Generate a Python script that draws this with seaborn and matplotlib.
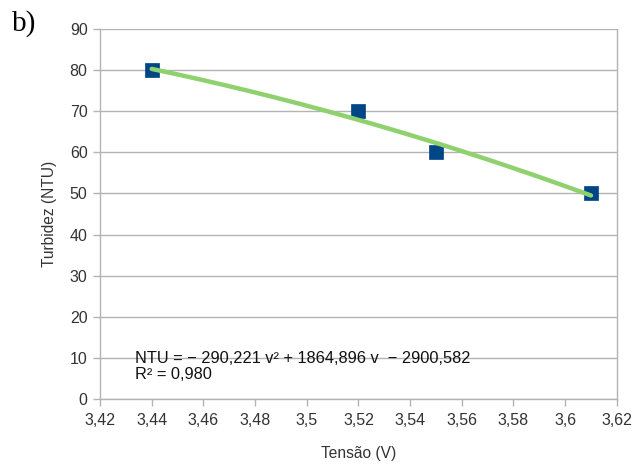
import numpy as np
import pandas as pd
import matplotlib
matplotlib.use("Agg")
import matplotlib.pyplot as plt
import seaborn as sns

# Measured points
tensao = [3.44, 3.52, 3.55, 3.61]
turbidez = [80, 70, 60, 50]

# Quadratic trend line coefficients
coef = [-290.221, 1864.896, -2900.582]
r2 = 0.980

xticks = [3.42, 3.44, 3.46, 3.48, 3.5, 3.52, 3.54, 3.56, 3.58, 3.6, 3.62]
xticklabels = ["3,42", "3,44", "3,46", "3,48", "3,5", "3,52", "3,54", "3,56", "3,58", "3,6", "3,62"]
yticks = [0, 10, 20, 30, 40, 50, 60, 70, 80, 90]

sns.set_theme(style="white")
plt.rcParams["font.family"] = ["Liberation Sans", "DejaVu Sans"]

fig = plt.figure(figsize=(6.42, 4.65), dpi=100)
ax = fig.add_axes([0.1558, 0.142, 0.805, 0.7956])

df = pd.DataFrame({"Tensão (V)": tensao, "Turbidez (NTU)": turbidez})

# Trend curve evaluated over the data range
xs = np.linspace(min(tensao), max(tensao), 200)
ys = np.polyval(coef, xs)
sns.lineplot(x=xs, y=ys, ax=ax, color="#8fd16f", linewidth=3.2, zorder=3)

sns.scatterplot(data=df, x="Tensão (V)", y="Turbidez (NTU)", ax=ax, marker="s",
                s=110, color="#004586", edgecolor="#004586", linewidth=0.5, zorder=2)

ax.set_xlim(3.42, 3.62)
ax.set_ylim(0, 90)
ax.set_xticks(xticks)
ax.set_xticklabels(xticklabels)
ax.set_yticks(yticks)

grid_c = "#b3b3b3"
ax.yaxis.grid(True, color=grid_c, linewidth=1.0)
ax.xaxis.grid(False)
ax.set_axisbelow(True)
for side in ["left", "right", "bottom", "top"]:
    ax.spines[side].set_color(grid_c)
    ax.spines[side].set_linewidth(1.0)
ax.spines["top"].set_visible(False)

ax.tick_params(axis="both", which="both", length=5, width=1.0, color=grid_c,
               labelsize=11.5, labelcolor="#333333", direction="out",
               bottom=True, left=True)
ax.tick_params(axis="x", pad=5)
ax.tick_params(axis="y", pad=4)

ax.set_xlabel("Tensão (V)", fontsize=11.2, color="#333333", labelpad=13)
ax.set_ylabel("Turbidez (NTU)", fontsize=11.2, color="#333333", labelpad=9)

eq = "NTU = − 290,221 v² + 1864,896 v  − 2900,582\nR² = 0,980"
ax.text(3.4335, 4.2, eq, fontsize=11.8, color="#111111", va="bottom", ha="left",
        linespacing=1.1)

fig.text(0.018, 0.933, "b)", fontsize=21, family="Liberation Serif", color="black",
         va="baseline")

fig.savefig("out.png", dpi=100)
